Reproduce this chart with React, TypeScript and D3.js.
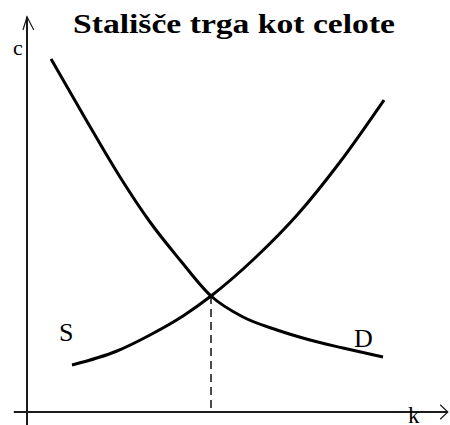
import React from "react";
import * as d3 from "d3";

const title = "Stališče trga kot celote";
const xLabel = "k";
const yLabel = "c";
const supplyLabel = "S";
const demandLabel = "D";

const supplyX = [1.125, 2.25, 3.075, 3.9, 4.6, 5.7, 6.775, 7.825, 8.925];
const supplyY = [1.175, 1.525, 1.925, 2.4, 2.9, 3.85, 4.95, 6.25, 7.8];

const demandX = [0.6, 1.45, 2.325, 3.075, 3.825, 4.6, 5.4, 6.25, 7.075, 7.9, 8.9];
const demandY = [8.825, 7.35, 5.875, 4.75, 3.8, 2.9, 2.375, 2.05, 1.8, 1.6, 1.375];

const eqX = [4.6];
const eqY = [2.9];

const W = 450;
const H = 425;

export default function App() {
  const x = d3.scaleLinear().domain([0, 10]).range([27, 427]);
  const y = d3.scaleLinear().domain([0, 10]).range([412, 12]);

  const line = d3
    .line<[number, number]>()
    .x((d) => x(d[0]))
    .y((d) => y(d[1]))
    .curve(d3.curveMonotoneX);

  const sPts: [number, number][] = supplyX.map((v, i) => [v, supplyY[i]]);
  const dPts: [number, number][] = demandX.map((v, i) => [v, demandY[i]]);

  const x0 = x(0);
  const y0 = y(0);
  const axisColor = "#1a1a1a";

  return (
    <div style={{ position: "fixed", left: 0, top: 0, width: W, height: H, background: "#fff" }}>
      <svg width={W} height={H} style={{ display: "block" }}>
        <rect width={W} height={H} fill="#fff" />
        {/* axes */}
        <line x1={x0} x2={x0} y1={y(-0.4)} y2={y(9.88)} stroke={axisColor} strokeWidth={2} />
        <line x1={x(-0.33)} x2={x(10.52)} y1={y0} y2={y0} stroke={axisColor} strokeWidth={2} />
        {/* y arrow */}
        <path
          d={`M${x(-0.1)},${y(9.55)} L${x0},${y(9.88)} L${x(0.17)},${y(9.55)}`}
          fill="none"
          stroke={axisColor}
          strokeWidth={1.2}
        />
        {/* x arrow */}
        <path
          d={`M${x(10.33)},${y(0.18)} L${x(10.52)},${y0} L${x(10.33)},${y(-0.18)}`}
          fill="none"
          stroke={axisColor}
          strokeWidth={1.2}
        />
        {/* equilibrium dashed line */}
        <line
          x1={x(eqX[0])}
          x2={x(eqX[0])}
          y1={y(eqY[0])}
          y2={y0}
          stroke="#111"
          strokeWidth={1.5}
          strokeDasharray="8,5"
        />
        {/* curves */}
        <path d={line(dPts) || ""} fill="none" stroke="#000" strokeWidth={3} strokeLinejoin="round" />
        <path d={line(sPts) || ""} fill="none" stroke="#000" strokeWidth={3} strokeLinejoin="round" />
        {/* labels */}
        <text
          x={234}
          y={33}
          textAnchor="middle"
          fontFamily="'Liberation Serif', serif"
          fontWeight="bold"
          fontSize={27}
          textLength={322}
          lengthAdjust="spacingAndGlyphs"
          fill="#000"
        >
          {title}
        </text>
        <text x={13} y={55} fontFamily="'Liberation Serif', serif" fontSize={22} fill="#000">
          {yLabel}
        </text>
        <text x={59} y={341} fontFamily="'Liberation Serif', serif" fontSize={26} fill="#000">
          {supplyLabel}
        </text>
        <text x={354} y={347} fontFamily="'Liberation Serif', serif" fontSize={26} fill="#000">
          {demandLabel}
        </text>
        <text x={408} y={423} fontFamily="'Liberation Serif', serif" fontSize={23} fill="#000">
          {xLabel}
        </text>
      </svg>
    </div>
  );
}
